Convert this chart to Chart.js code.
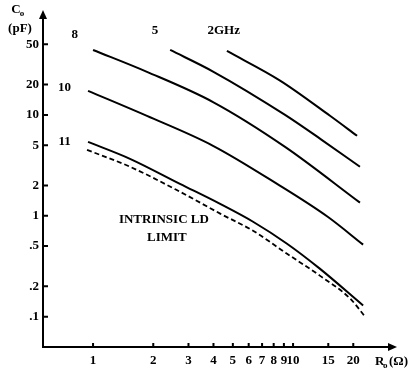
<!DOCTYPE html>
<html lang="en">

<head>
  <meta charset="UTF-8">
  <title>Co vs Ro</title>
  <style>
    body { margin: 0; background: #fff; }
    #wrap { width: 413px; height: 373px; }
  </style>
</head>

<body>
  <div id="wrap">
    <canvas id="chart-canvas" width="413" height="373"></canvas>
  </div>

  <script src="https://cdn.jsdelivr.net/npm/chart.js@4.4.8/dist/chart.umd.min.js"></script>
  <script>
    // tick values on both log axes
    const xTicks = [1, 2, 3, 4, 5, 6, 7, 8, 9, 10, 15, 20];
    const yTicks = [0.1, 0.2, 0.5, 1, 2, 5, 10, 20, 50];
    const yTickLabels = ['.1', '.2', '.5', '1', '2', '5', '10', '20', '50'];

    // curves (Ro in ohm, Co in pF)
    const r2GHz = [4.67, 8.61, 15.3, 20.9];
    const c2GHz = [43, 21.9, 9.8, 6.2];
    const r5GHz = [2.43, 3.98, 9.12, 13.9, 21.6];
    const c5GHz = [44, 26.9, 10.0, 5.66, 3.06];
    const r8GHz = [1, 1.86, 3.98, 9.12, 21.6];
    const c8GHz = [44, 26.7, 13.4, 4.82, 1.35];
    const r10GHz = [0.944, 1.86, 3.98, 8.32, 14.9, 22.4];
    const c10GHz = [17.3, 9.77, 4.94, 2.07, 0.977, 0.517];
    const r11GHz = [0.944, 1.53, 2.72, 4.32, 6.31, 9.33, 13.6, 22.4];
    const c11GHz = [5.40, 3.67, 2.07, 1.31, 0.872, 0.528, 0.299, 0.129];
    const rLimit = [0.933, 1.53, 2.72, 4.32, 6.31, 9.33, 13.6, 19.3, 22.9];
    const cLimit = [4.50, 3.06, 1.73, 1.05, 0.71, 0.42, 0.255, 0.151, 0.100];

    const font = "'Liberation Serif', 'DejaVu Serif', serif";

    function pts(xs, ys) {
      return xs.map((x, i) => ({ x: x, y: ys[i] }));
    }

    function curve(xs, ys, dashed) {
      return {
        data: pts(xs, ys),
        showLine: true,
        borderColor: '#000',
        borderWidth: dashed ? 1.8 : 2,
        borderDash: dashed ? [5, 3] : [],
        pointRadius: 0,
        cubicInterpolationMode: 'monotone',
        fill: false
      };
    }

    // text labels placed in data units
    const notes = [
      { t: '8', x: 0.81, y: 63 },
      { t: '5', x: 2.04, y: 68 },
      { t: '2GHz', x: 4.5, y: 68 },
      { t: '10', x: 0.72, y: 18.5 },
      { t: '11', x: 0.72, y: 5.4 },
      { t: 'INTRINSIC LD', x: 2.26, y: 0.913 },
      { t: 'LIMIT', x: 2.34, y: 0.606 }
    ];

    // ticks drawn inward, axis arrows and free text
    const decor = {
      id: 'decor',
      afterDraw(chart) {
        const ctx = chart.ctx;
        const xs = chart.scales.x, ys = chart.scales.y;
        const a = chart.chartArea;
        ctx.save();
        ctx.strokeStyle = '#000';
        ctx.fillStyle = '#000';
        ctx.lineWidth = 2;
        ctx.beginPath();
        yTicks.forEach(v => {
          const p = ys.getPixelForValue(v);
          ctx.moveTo(a.left, p);
          ctx.lineTo(a.left + 5, p);
        });
        xTicks.forEach(v => {
          const p = xs.getPixelForValue(v);
          ctx.moveTo(p, a.bottom);
          ctx.lineTo(p, a.bottom - 4);
        });
        ctx.stroke();

        // arrows
        ctx.beginPath();
        ctx.moveTo(a.left, a.top - 4);
        ctx.lineTo(a.left - 4, a.top + 5);
        ctx.lineTo(a.left + 4, a.top + 5);
        ctx.closePath();
        ctx.fill();
        ctx.beginPath();
        ctx.moveTo(a.right + 4, a.bottom);
        ctx.lineTo(a.right - 5, a.bottom - 4);
        ctx.lineTo(a.right - 5, a.bottom + 4);
        ctx.closePath();
        ctx.fill();

        ctx.textAlign = 'center';
        ctx.textBaseline = 'middle';
        ctx.font = 'bold 13px ' + font;
        notes.forEach(n => {
          ctx.fillText(n.t, xs.getPixelForValue(n.x), ys.getPixelForValue(n.y));
        });

        // axis titles
        ctx.font = 'bold 13px ' + font;
        ctx.fillText('C', 16, 10);
        ctx.fillText('(pF)', 20, 29);
        ctx.font = 'bold 9px ' + font;
        ctx.fillText('o', 22, 14);
        ctx.font = 'bold 13px ' + font;
        ctx.textAlign = 'left';
        ctx.fillText('R', 375, 362);
        ctx.fillText('(Ω)', 389, 362);
        ctx.font = 'bold 9px ' + font;
        ctx.fillText('o', 383, 366);
        ctx.restore();
      }
    };

    const context = document.getElementById('chart-canvas').getContext('2d');

    new Chart(context, {
      type: 'scatter',
      data: {
        datasets: [
          curve(r2GHz, c2GHz),
          curve(r5GHz, c5GHz),
          curve(r8GHz, c8GHz),
          curve(r10GHz, c10GHz),
          curve(r11GHz, c11GHz),
          curve(rLimit, cLimit, true)
        ]
      },
      options: {
        responsive: false,
        animation: false,
        layout: { padding: { top: 14, right: 20, left: 0, bottom: 0 } },
        plugins: {
          legend: { display: false },
          tooltip: { enabled: false }
        },
        scales: {
          x: {
            type: 'logarithmic',
            min: 0.562,
            max: 31.6,
            afterFit(scale) { scale.height = 26; },
            afterBuildTicks(scale) { scale.ticks = xTicks.map(v => ({ value: v })); },
            grid: { display: true, drawOnChartArea: false, drawTicks: false },
            border: { display: true, color: '#000', width: 2 },
            ticks: {
              autoSkip: false,
              maxRotation: 0,
              padding: 6,
              color: '#000',
              font: { family: font, size: 13, weight: 'bold' },
              callback: v => String(v)
            }
          },
          y: {
            type: 'logarithmic',
            min: 0.05,
            max: 100,
            afterFit(scale) { scale.width = 43; },
            afterBuildTicks(scale) { scale.ticks = yTicks.map(v => ({ value: v })); },
            grid: { display: true, drawOnChartArea: false, drawTicks: false },
            border: { display: true, color: '#000', width: 2 },
            ticks: {
              autoSkip: false,
              padding: 4,
              color: '#000',
              font: { family: font, size: 13, weight: 'bold' },
              callback: v => yTickLabels[yTicks.indexOf(v)]
            }
          }
        }
      },
      plugins: [decor]
    });
  </script>
</body>

</html>
